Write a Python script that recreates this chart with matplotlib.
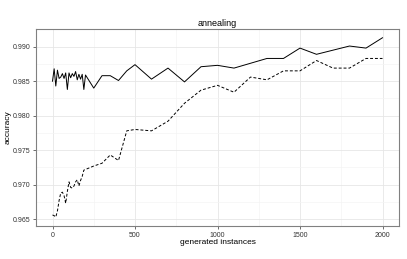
import matplotlib
matplotlib.use("Agg")
import matplotlib.pyplot as plt
from matplotlib.ticker import MultipleLocator

# generated instances (x) shared by both runs
instances = [0, 10, 20, 30, 40, 50, 60, 70, 80, 90, 100, 110, 120, 130, 140,
             150, 160, 170, 180, 190, 200, 250, 300, 350, 400, 450, 500, 600,
             700, 800, 900, 1000, 1100, 1200, 1300, 1400, 1500, 1600, 1700,
             1800, 1900, 2000]

acc_solid = [0.9850, 0.9868, 0.9843, 0.9866, 0.9854, 0.9856, 0.9861, 0.9854,
             0.9862, 0.9838, 0.9862, 0.9855, 0.9861, 0.9857, 0.9864, 0.9852,
             0.9860, 0.9853, 0.9860, 0.9838, 0.9859, 0.9840, 0.9858, 0.9858,
             0.9851, 0.9865, 0.9874, 0.9853, 0.9869, 0.9849, 0.9871, 0.9873,
             0.9869, 0.9876, 0.9883, 0.9883, 0.9898, 0.9889, 0.9895, 0.9901,
             0.9898, 0.9913]

acc_dashed = [0.9656, 0.9655, 0.9653, 0.9662, 0.9677, 0.9688, 0.9689, 0.9684,
              0.9673, 0.9690, 0.9704, 0.9696, 0.9695, 0.9698, 0.9704, 0.9707,
              0.9698, 0.9706, 0.9712, 0.9721, 0.9722, 0.9727, 0.9731, 0.9743,
              0.9735, 0.9778, 0.9780, 0.9778, 0.9792, 0.9818, 0.9837, 0.9844,
              0.9834, 0.9856, 0.9852, 0.9865, 0.9865, 0.9880, 0.9869, 0.9869,
              0.9883, 0.9883]

plt.rcParams['font.family'] = ['Liberation Sans', 'DejaVu Sans']

fig = plt.figure(figsize=(4.07, 2.59), dpi=100)
ax = fig.add_axes([36 / 407, 1 - 226 / 259, 363 / 407, 197 / 259])

ax.plot(instances, acc_solid, color='black', lw=0.7, ls='-')
ax.plot(instances, acc_dashed, color='black', lw=0.7, ls=(0, (3, 2)))

ax.set_xlim(-100, 2100)
ax.set_ylim(0.96400, 0.99257)

ax.xaxis.set_major_locator(MultipleLocator(500))
ax.xaxis.set_minor_locator(MultipleLocator(250))
ax.yaxis.set_major_locator(MultipleLocator(0.005))
ax.yaxis.set_minor_locator(MultipleLocator(0.0025))
ax.yaxis.set_major_formatter(plt.FormatStrFormatter('%.3f'))

ax.grid(which='major', color='#e6e6e6', lw=0.6)
ax.grid(which='minor', color='#f4f4f4', lw=0.5)
ax.set_axisbelow(True)

for sp in ax.spines.values():
    sp.set_color('#808080')
    sp.set_linewidth(0.8)

ax.tick_params(which='major', length=2.5, width=0.6, color='#555555',
               labelsize=5, labelcolor='#333333', pad=1.5)
ax.tick_params(which='minor', length=0)

ax.set_title('annealing', fontsize=6.5, pad=2)
ax.set_xlabel('generated instances', fontsize=6, labelpad=0)
ax.set_ylabel('accuracy', fontsize=6, labelpad=1)

fig.savefig('out.png', dpi=100)
